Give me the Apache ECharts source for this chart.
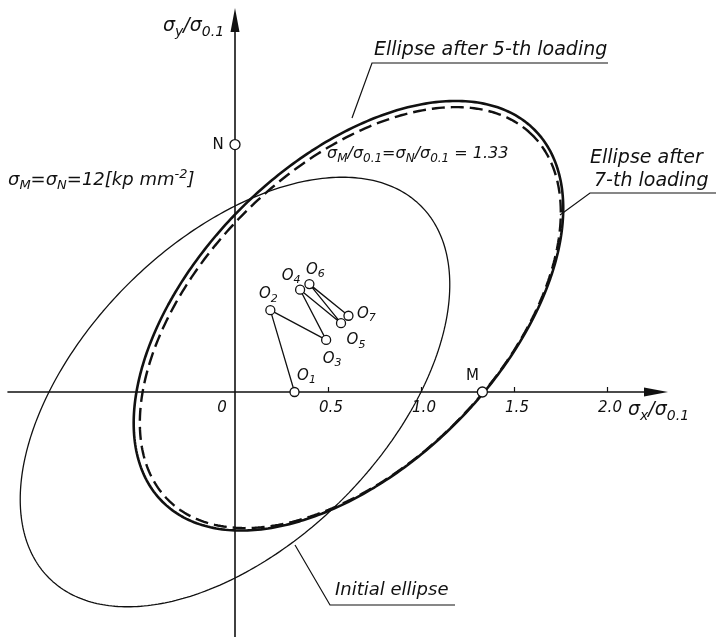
<!DOCTYPE html>
<html>
<head>
<meta charset="utf-8">
<script src="https://cdn.jsdelivr.net/npm/echarts@6/dist/echarts.min.js"></script>
<style>
  html, body { margin: 0; padding: 0; background: #ffffff; }
  #chart { width: 721px; height: 637px; }
</style>
</head>
<body>
<div id="chart"></div>
<script>
// ---- values (stresses in units of σ0.1) ----
const xTickValues = [0, 0.5, 1.0, 1.5, 2.0];
const xTickLabels = ['0', '0.5', '1.0', '1.5', '2.0'];

// successive ellipse centres O1 … O7
const centreIndex = ['1', '2', '3', '4', '5', '6', '7'];
const centreX = [0.32, 0.19, 0.49, 0.35, 0.57, 0.40, 0.61];
const centreY = [0.00, 0.44, 0.28, 0.55, 0.37, 0.58, 0.41];

// loading points M and N
const loadNames = ['M', 'N'];
const loadX = [1.33, 0.00];
const loadY = [0.00, 1.33];

// yield ellipses  (x−cx)² − (x−cx)(y−cy) + (y−cy)² = k²
const ellipseNames = ['Initial ellipse', 'Ellipse after 5-th loading', 'Ellipse after 7-th loading'];
const ellipseCx = [0.00, 0.62, 0.61];
const ellipseCy = [0.00, 0.40, 0.41];
const ellipseK  = [1.00, 0.98, 1.00];

// ---- drawing ----
const INK = '#111111';
const FONT = 'DejaVu Sans';
const W = 721, H = 637;
const ORIGIN = [235, 392];
const UNIT = 186;
const gridBox = { left: 8, right: 65, top: 20, bottom: 0 };
const xMin = -(ORIGIN[0] - gridBox.left) / UNIT;
const xMax = (W - gridBox.right - ORIGIN[0]) / UNIT;
const yMax = (ORIGIN[1] - gridBox.top) / UNIT;
const yMin = -(H - gridBox.bottom - ORIGIN[1]) / UNIT;

function ellipsePoints(cx, cy, k) {
  const pts = [];
  const n = 360;
  const q = k / Math.sqrt(3);
  for (let i = 0; i <= n; i++) {
    const t = 2 * Math.PI * i / n;
    const c = Math.cos(t), s = Math.sin(t);
    pts.push([cx + k * c - q * s, cy + k * c + q * s]);
  }
  return pts;
}

function richFor(size) {
  const base = { fontFamily: FONT, fontStyle: 'italic', fontSize: size, color: INK };
  const small = Math.round(size * 0.72);
  return {
    t: base,
    b: Object.assign({}, base, { fontSize: small, verticalAlign: 'top', padding: [Math.round(size * 0.62), 0, 0, 0] }),
    p: Object.assign({}, base, { fontSize: small, verticalAlign: 'top', padding: [0, 0, 0, 0] })
  };
}

function textEl(x, y, text, size, align) {
  return {
    type: 'text', x: x, y: y, silent: true, z: 20,
    style: {
      text: text, rich: richFor(size), align: align || 'left', verticalAlign: 'middle',
      fontFamily: FONT, fontStyle: 'italic', fontSize: size, fill: INK
    }
  };
}

function lineEl(points, width) {
  return {
    type: 'polyline', silent: true, z: 20,
    shape: { points: points },
    style: { stroke: INK, lineWidth: width || 1.2, fill: null }
  };
}

const ellipseStyles = [
  { width: 1.3, type: 'solid' },
  { width: 2.4, type: [13, 6] },
  { width: 2.6, type: 'solid' }
];

const ellipseSeries = ellipseNames.map((name, i) => ({
  name: name,
  type: 'line',
  data: ellipsePoints(ellipseCx[i], ellipseCy[i], ellipseK[i]),
  showSymbol: false,
  smooth: false,
  silent: true,
  z: 3,
  lineStyle: { color: INK, width: ellipseStyles[i].width, type: ellipseStyles[i].type }
}));

// label offsets around each centre marker
const centreLabelOffset = [[12, -16], [-2, -16], [6, 19], [-9, -14], [15, 17], [6, -14], [18, -2]];

const centreData = centreX.map((x, i) => ({
  value: [x, centreY[i]],
  label: {
    show: true, position: 'inside', offset: centreLabelOffset[i],
    formatter: '{t|O}{b|' + centreIndex[i] + '}', rich: richFor(15)
  }
}));

const loadLabelOffset = [[-10, -16], [-17, 0]];
const loadData = loadX.map((x, i) => ({
  value: [x, loadY[i]],
  label: {
    show: true, position: 'inside', offset: loadLabelOffset[i],
    formatter: '{n|' + loadNames[i] + '}',
    rich: { n: { fontFamily: FONT, fontSize: 15, color: INK } }
  }
}));

// tick labels sit just under the x axis line
const tickLabelData = xTickValues.map((v, i) => ({
  value: [v, 0],
  label: {
    show: true, position: 'inside',
    offset: v === 0 ? [-13, 16] : [3, 16],
    formatter: '{d|' + xTickLabels[i] + '}',
    rich: { d: { fontFamily: FONT, fontStyle: 'italic', fontSize: 15, color: INK } }
  }
}));

const option = {
  backgroundColor: '#ffffff',
  animation: false,
  grid: Object.assign({ containLabel: false, outerBoundsMode: 'none' }, gridBox),
  xAxis: {
    type: 'value', min: xMin, max: xMax,
    axisLine: {
      onZero: true, symbol: ['none', 'triangle'], symbolSize: [9, 24],
      lineStyle: { color: INK, width: 1.6 }
    },
    axisTick: {
      show: true, inside: true, length: 5,
      customValues: xTickValues.slice(1),
      lineStyle: { color: INK, width: 1.2 }
    },
    axisLabel: { show: false },
    splitLine: { show: false }
  },
  yAxis: {
    type: 'value', min: yMin, max: yMax,
    axisLine: {
      onZero: true, symbol: ['none', 'triangle'], symbolSize: [9, 24],
      lineStyle: { color: INK, width: 1.6 }
    },
    axisTick: { show: false },
    axisLabel: { show: false },
    splitLine: { show: false }
  },
  series: ellipseSeries.concat([
    {
      name: 'centre path', type: 'line', silent: true, z: 4,
      data: centreX.map((x, i) => [x, centreY[i]]),
      showSymbol: false,
      lineStyle: { color: INK, width: 1.3 }
    },
    {
      name: 'centres', type: 'scatter', silent: true, z: 5,
      symbol: 'circle', symbolSize: 9,
      itemStyle: { color: '#ffffff', borderColor: INK, borderWidth: 1.3, opacity: 1 },
      data: centreData
    },
    {
      name: 'loads', type: 'scatter', silent: true, z: 5,
      symbol: 'circle', symbolSize: 10,
      itemStyle: { color: '#ffffff', borderColor: INK, borderWidth: 1.3, opacity: 1 },
      data: loadData
    },
    {
      name: 'tick labels', type: 'scatter', silent: true, z: 6,
      symbol: 'circle', symbolSize: 1,
      itemStyle: { color: '#ffffff', opacity: 0 },
      label: { opacity: 1 },
      data: tickLabelData
    }
  ]),
  graphic: [
    textEl(163, 26, '{t|σ}{b|y}{t|/σ}{b|0.1}', 19),
    textEl(628, 410, '{t|σ}{b|x}{t|/σ}{b|0.1}', 19),
    textEl(8, 180, '{t|σ}{b|M}{t|=σ}{b|N}{t|=12[kp mm}{p|-2}{t|]}', 18),
    textEl(327, 154, '{t|σ}{b|M}{t|/σ}{b|0.1}{t|=σ}{b|N}{t|/σ}{b|0.1}{t| = 1.33}', 16),
    textEl(374, 50, '{t|Ellipse after 5-th loading}', 19),
    lineEl([[352, 118], [372, 63], [608, 63]], 1.2),
    textEl(590, 158, '{t|Ellipse after}', 19),
    textEl(594, 181, '{t|7-th loading}', 19),
    lineEl([[560, 215], [590, 193], [716, 193]], 1.2),
    textEl(335, 590, '{t|Initial ellipse}', 18),
    lineEl([[295, 545], [330, 605], [455, 605]], 1.2)
  ]
};

const chart = echarts.init(document.getElementById('chart'), null, { renderer: 'canvas' });
chart.setOption(option);
</script>
</body>
</html>
